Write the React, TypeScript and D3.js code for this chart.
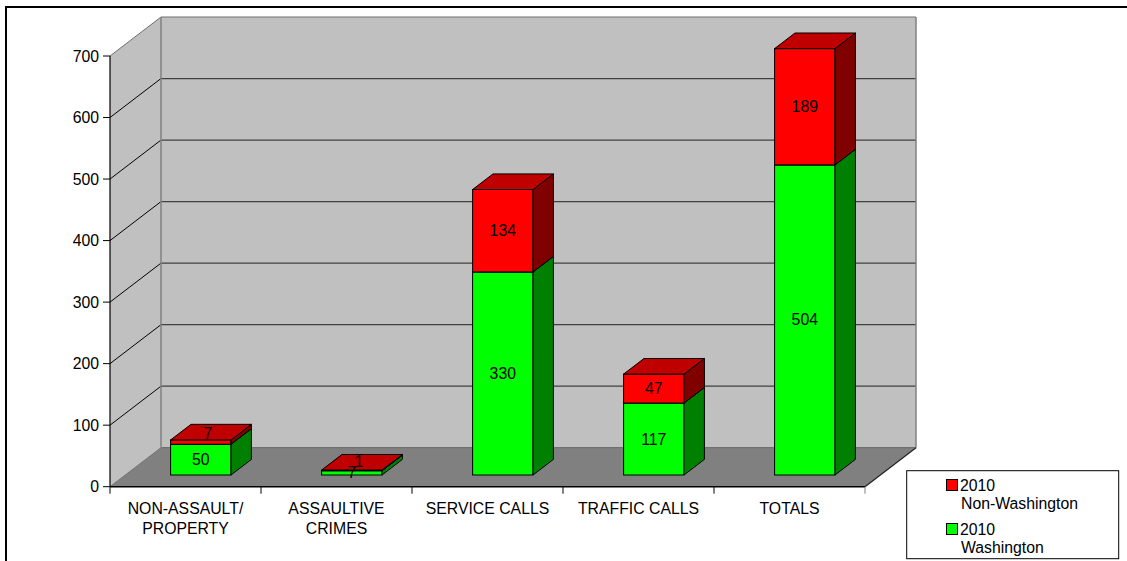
import React from "react";
import * as d3 from "d3";

const categories: string[][] = [
  ["NON-ASSAULT/", "PROPERTY"],
  ["ASSAULTIVE", "CRIMES"],
  ["SERVICE CALLS"],
  ["TRAFFIC CALLS"],
  ["TOTALS"],
];
const washington = [50, 7, 330, 117, 504];
const nonWashington = [7, 1, 134, 47, 189];
const yTicks = [0, 100, 200, 300, 400, 500, 600, 700];
const seriesNames = [["2010", "Non-Washington"], ["2010", "Washington"]];

const W = 1127;
const H = 561;
const FONT = "'Liberation Sans', Arial, sans-serif";
const FS = 15.8;
const DX = 51;
const DY = -39;
const D0 = 0.3;
const D1 = 0.7;

export default function App() {
  const x = d3
    .scaleBand<number>()
    .domain(categories.map((_, i) => i))
    .range([110, 865])
    .padding(0);
  const y = d3.scaleLinear().domain([0, 700]).range([486.7, 56]);
  const bw = x.bandwidth();
  const barW = bw * 0.4;
  const y0 = y(0);
  const yTop = y(700);
  const xL = 110;
  const xR = 865;

  const pt = (px: number, py: number) => `${px},${py}`;

  const segments: any[] = [];
  categories.forEach((_, i) => {
    const cx = (x(i) as number) + bw / 2;
    const bx0 = cx - barW / 2;
    const bx1 = cx + barW / 2;
    const parts = [
      { v0: 0, v1: washington[i], val: washington[i], front: "#00ff00", side: "#008000", top: "#00c000", red: false },
      {
        v0: washington[i],
        v1: washington[i] + nonWashington[i],
        val: nonWashington[i],
        front: "#ff0000",
        side: "#800000",
        top: "#c00000",
        red: true,
      },
    ];
    parts.forEach((p, j) => {
      const fx0 = bx0 + DX * D0;
      const fx1 = bx1 + DX * D0;
      const fyT = y(p.v1) + DY * D0;
      const fyB = y(p.v0) + DY * D0;
      const sx = DX * (D1 - D0);
      const sy = DY * (D1 - D0);
      let lx = (fx0 + fx1) / 2;
      let ly = (fyT + fyB) / 2;
      if (p.red && fyB - fyT < 10) {
        lx += 7;
        ly -= 9;
      }
      segments.push(
        <g key={`s${i}-${j}`}>
          <rect x={fx0} y={fyT} width={fx1 - fx0} height={fyB - fyT} fill={p.front} stroke="#000" strokeWidth={1} />
          <polygon
            points={[pt(fx1, fyT), pt(fx1 + sx, fyT + sy), pt(fx1 + sx, fyB + sy), pt(fx1, fyB)].join(" ")}
            fill={p.side}
            stroke="#000"
            strokeWidth={1}
            strokeLinejoin="round"
          />
          <polygon
            points={[pt(fx0, fyT), pt(fx0 + sx, fyT + sy), pt(fx1 + sx, fyT + sy), pt(fx1, fyT)].join(" ")}
            fill={p.top}
            stroke="#000"
            strokeWidth={1}
            strokeLinejoin="round"
          />
        </g>
      );
      segments.push({ label: true, key: `l${i}-${j}`, lx, ly, val: p.val });
    });
  });

  const shapes = segments.filter((s) => !s.label);
  const labels = segments.filter((s) => s.label);

  return (
    <svg width={W} height={H} style={{ display: "block", position: "absolute", left: 0, top: 0 }} fontFamily={FONT}>
      <rect x={0} y={0} width={W} height={H} fill="#fff" />
      <rect x={6} y={7} width={W + 20} height={H + 20} fill="none" stroke="#000" strokeWidth={2} />
      {/* side wall */}
      <polygon
        points={[pt(xL, y0), pt(xL, yTop), pt(xL + DX, yTop + DY), pt(xL + DX, y0 + DY)].join(" ")}
        fill="#c0c0c0"
      />
      {/* back wall */}
      <rect x={xL + DX} y={yTop + DY} width={xR - xL} height={y0 - yTop} fill="#c0c0c0" />
      {/* floor */}
      <polygon
        points={[pt(xL, y0), pt(xR, y0), pt(xR + DX, y0 + DY), pt(xL + DX, y0 + DY)].join(" ")}
        fill="#808080"
      />
      {/* gridlines */}
      {yTicks.map((t) => {
        const edge = t === 700 || t === 0;
        return (
          <g key={`g${t}`}>
            <line
              x1={xL + DX}
              x2={xR + DX}
              y1={y(t) + DY}
              y2={y(t) + DY}
              stroke={edge ? "#707070" : "#404040"}
              strokeWidth={1.2}
            />
            <line
              x1={xL}
              y1={y(t)}
              x2={xL + DX}
              y2={y(t) + DY}
              stroke={edge ? "#707070" : "#000"}
              strokeWidth={1}
            />
          </g>
        );
      })}
      <line x1={xL + DX} x2={xL + DX} y1={yTop + DY} y2={y0 + DY} stroke="#808080" strokeWidth={1.5} />
      <line x1={xR + DX} x2={xR + DX} y1={yTop + DY} y2={y0 + DY} stroke="#808080" strokeWidth={1.5} />
      <line x1={xR} y1={y0} x2={xR + DX} y2={y0 + DY} stroke="#222" strokeWidth={1.2} />
      {/* axes */}
      <line x1={xL} x2={xL} y1={yTop} y2={y0} stroke="#000" strokeWidth={1.2} />
      <line x1={xL} x2={xR} y1={y0} y2={y0} stroke="#000" strokeWidth={1.5} />
      {yTicks.map((t) => (
        <g key={`yt${t}`}>
          <line x1={xL - 7} x2={xL} y1={y(t)} y2={y(t)} stroke="#000" strokeWidth={1} />
          <text x={xL - 11} y={y(t)} dy="0.35em" textAnchor="end" fontSize={FS} fill="#000">
            {t}
          </text>
        </g>
      ))}
      {categories.map((_, i) => (
        <line key={`xt${i}`} x1={x(i) as number} x2={x(i) as number} y1={y0} y2={y0 + 7} stroke="#000" strokeWidth={1} />
      ))}
      <line x1={xR} x2={xR} y1={y0} y2={y0 + 7} stroke="#808080" strokeWidth={1} />
      {categories.map((lines, i) => (
        <text key={`cl${i}`} x={(x(i) as number) + bw / 2} y={508.3} textAnchor="middle" fontSize={FS} fill="#000">
          {lines.map((ln, k) => (
            <tspan key={k} x={(x(i) as number) + bw / 2} dy={k === 0 ? "0.35em" : 20}>
              {ln}
            </tspan>
          ))}
        </text>
      ))}
      {/* bars */}
      {shapes}
      {labels.map((l) => (
        <text key={l.key} x={l.lx} y={l.ly} dy="0.35em" textAnchor="middle" fontSize={FS} fill="#000">
          {l.val}
        </text>
      ))}
      {/* legend */}
      <rect x={906.7} y={470.7} width={212} height={88} fill="#fff" stroke="#000" strokeWidth={1} />
      {seriesNames.map((nm, k) => {
        const top = k === 0 ? 479.5 : 523.5;
        return (
          <g key={`lg${k}`}>
            <rect x={946.5} y={top} width={11} height={11} fill={k === 0 ? "#ff0000" : "#00ff00"} stroke="#000" strokeWidth={1} />
            <text x={960} y={top + 5.5} dy="0.35em" fontSize={FS} fill="#000">
              {nm[0]}
            </text>
            <text x={961} y={top + 24} dy="0.35em" fontSize={FS} fill="#000">
              {nm[1]}
            </text>
          </g>
        );
      })}
    </svg>
  );
}
